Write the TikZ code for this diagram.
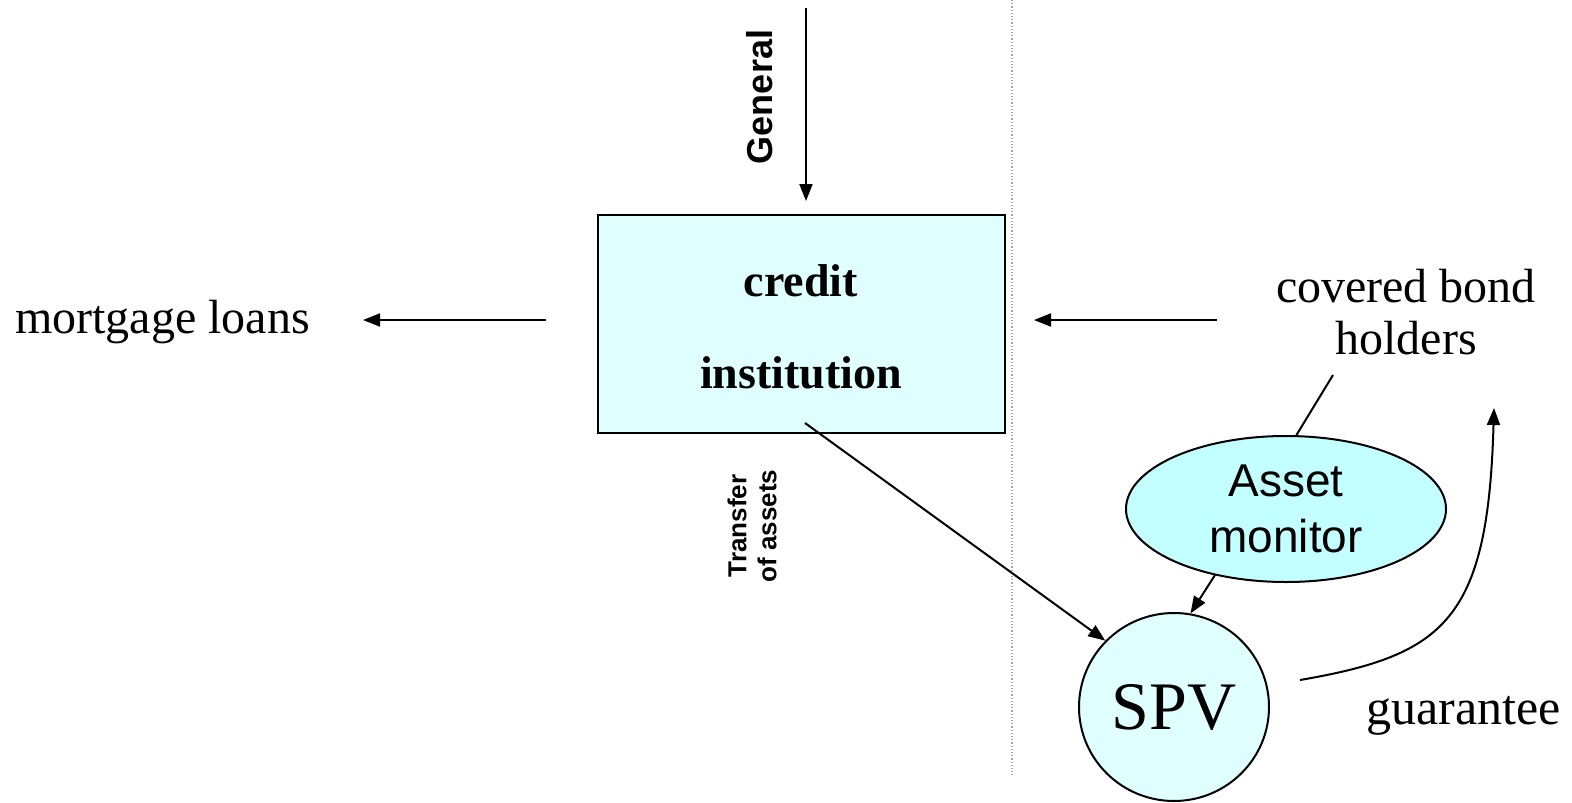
\documentclass[tikz,border=0pt]{standalone}
\usepackage{fontspec}
\setmainfont{Liberation Serif}
\setsansfont{Liberation Sans}
\usetikzlibrary{arrows.meta,shapes.geometric}
\definecolor{boxcyan}{HTML}{E0FFFF}
\definecolor{ellcyan}{HTML}{C4FFFF}
\tikzset{
  conn/.style={line width=2pt,-{Triangle[length=17pt,width=13pt]}},
  plainline/.style={line width=2pt},
  serif/.style={font=\fontsize{48}{54}\selectfont, inner sep=0pt},
}
\begin{document}
\begin{tikzpicture}[x=1pt,y=-1pt]
\useasboundingbox (0,0) rectangle (1572,803);
% dotted divider
\draw[gray!70, dotted, line width=1.2pt] (1012,0) -- (1012,775);
% credit institution box
\node[draw, line width=2pt, fill=boxcyan, minimum width=407pt, minimum height=218pt, inner sep=0pt] (ci) at (801.5,324) {};
\node[font=\bfseries\fontsize{46}{52}\selectfont, inner sep=0pt] (cred) at (801,281) {credit};
\node[font=\bfseries\fontsize{46}{52}\selectfont, inner sep=0pt] (inst) at (801,373) {institution};
% General
\coordinate (gtop) at (806,8);
\coordinate (gbot) at (806,201);
\draw[conn] (gtop) -- (gbot);
\node[font=\sffamily\bfseries\fontsize{36}{40}\selectfont, rotate=90, inner sep=0pt] (gen) at (760,97) {General};
% mortgage loans
\node[serif, anchor=west] (ml) at (15,322) {mortgage loans};
\coordinate (mls) at (546,320);
\coordinate (mle) at (363,320);
\draw[conn] (mls) -- (mle);
% covered bond holders
\node[serif, align=center, font=\fontsize{48}{52}\selectfont] (cbh) at (1406,312) {covered bond\\holders};
\coordinate (cbs) at (1217,320);
\coordinate (cbe) at (1034,320);
\draw[conn] (cbs) -- (cbe);
% Transfer of assets
\node[font=\sffamily\bfseries\fontsize{26}{30}\selectfont, rotate=90, align=center, inner sep=0pt] (toa) at (752,526) {Transfer\\of assets};
% Asset monitor
\node[draw, ellipse, line width=2pt, fill=ellcyan, minimum width=320pt, minimum height=146pt, inner sep=0pt, align=center, font=\sffamily\fontsize{46}{56}\selectfont] (am) at (1286,509) {Asset\\monitor};
% SPV
\node[draw, ellipse, line width=2pt, fill=boxcyan, minimum width=190pt, minimum height=188pt, inner sep=0pt, font=\fontsize{68}{72}\selectfont] (spv) at (1174,707) {SPV};
% guarantee
\node[serif, anchor=west, font=\fontsize{50}{54}\selectfont] (guar) at (1366,716) {guarantee};
% connectors
\coordinate (h1) at (1333,375);
\draw[plainline] (h1) -- (am.82);
\coordinate (t1) at (805,423);
\draw[conn] (t1) -- (spv.136);
\coordinate (a1) at (1215,575);
\draw[conn] (a1) -- (spv.80);
\coordinate (g1) at (1300,680);
\coordinate (g2) at (1494,408);
\draw[conn] (g1) .. controls (1445,655) and (1488,620) .. (g2);
\end{tikzpicture}
\end{document}
